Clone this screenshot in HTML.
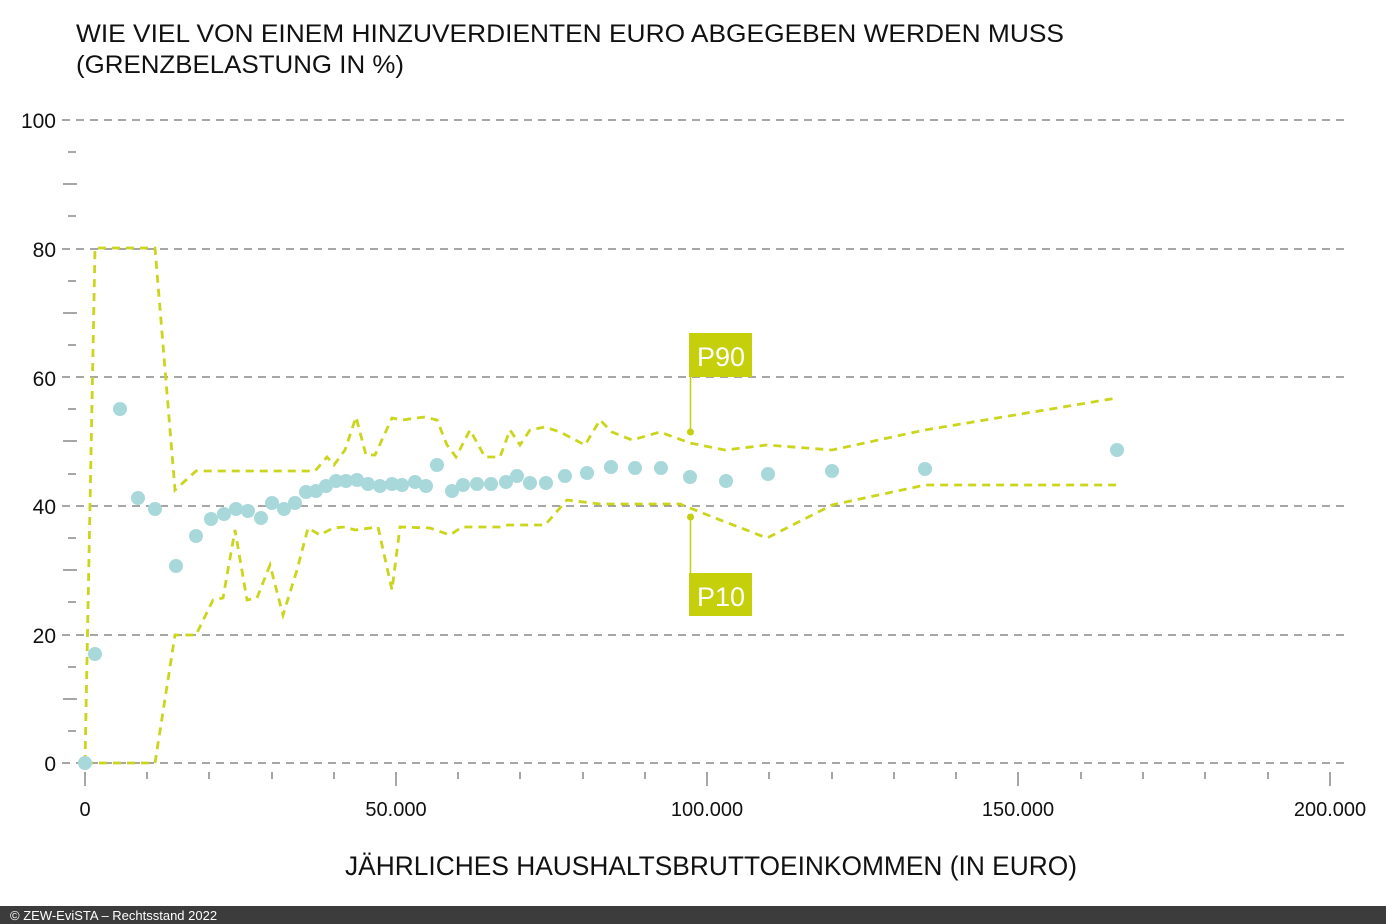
<!DOCTYPE html><html><head><meta charset="utf-8"><style>body{margin:0;width:1386px;height:924px;background:#fff;overflow:hidden;font-family:"Liberation Sans",sans-serif}</style></head><body>
<svg width="1386" height="924" style="position:absolute;left:0;top:0">
<g font-family="Liberation Sans, sans-serif" fill="#111">
<text x="76" y="42" font-size="25" textLength="988" lengthAdjust="spacingAndGlyphs">WIE VIEL VON EINEM HINZUVERDIENTEN EURO ABGEGEBEN WERDEN MUSS</text>
<text x="76" y="73" font-size="25" textLength="328" lengthAdjust="spacingAndGlyphs">(GRENZBELASTUNG IN %)</text>
<g font-size="21" text-anchor="end"><text x="56" y="128">100</text><text x="56" y="257">80</text><text x="56" y="386">60</text><text x="56" y="514">40</text><text x="56" y="643">20</text><text x="56" y="771">0</text></g>
<g font-size="20" text-anchor="middle"><text x="85" y="816">0</text><text x="396" y="816">50.000</text><text x="707" y="816">100.000</text><text x="1018" y="816">150.000</text><text x="1330" y="816">200.000</text></g>
<text x="345" y="875" font-size="27" textLength="732" lengthAdjust="spacingAndGlyphs">JÄHRLICHES HAUSHALTSBRUTTOEINKOMMEN (IN EURO)</text>
</g>
<g stroke="#888" stroke-width="1.5" stroke-dasharray="8,6">
<line x1="62" y1="120" x2="1345" y2="120"/><line x1="62" y1="249" x2="1345" y2="249"/><line x1="62" y1="377" x2="1345" y2="377"/><line x1="62" y1="506" x2="1345" y2="506"/><line x1="62" y1="635" x2="1345" y2="635"/><line x1="62" y1="763" x2="1345" y2="763"/>
</g>
<g stroke="#888" stroke-width="1.5">
<line x1="68" y1="152" x2="76" y2="152"/><line x1="63" y1="184" x2="77" y2="184"/><line x1="68" y1="216" x2="76" y2="216"/>
<line x1="68" y1="281" x2="76" y2="281"/><line x1="63" y1="313" x2="77" y2="313"/><line x1="68" y1="345" x2="76" y2="345"/>
<line x1="68" y1="409" x2="76" y2="409"/><line x1="63" y1="441" x2="77" y2="441"/><line x1="68" y1="474" x2="76" y2="474"/>
<line x1="68" y1="538" x2="76" y2="538"/><line x1="63" y1="570" x2="77" y2="570"/><line x1="68" y1="602" x2="76" y2="602"/>
<line x1="68" y1="667" x2="76" y2="667"/><line x1="63" y1="699" x2="77" y2="699"/><line x1="68" y1="731" x2="76" y2="731"/>
<line x1="85" y1="772" x2="85" y2="786"/><line x1="396" y1="772" x2="396" y2="786"/><line x1="707" y1="772" x2="707" y2="786"/><line x1="1018" y1="772" x2="1018" y2="786"/><line x1="1330" y1="772" x2="1330" y2="786"/>
<line x1="147" y1="772" x2="147" y2="779"/><line x1="209" y1="772" x2="209" y2="779"/><line x1="272" y1="772" x2="272" y2="779"/><line x1="334" y1="772" x2="334" y2="779"/>
<line x1="458" y1="772" x2="458" y2="779"/><line x1="520" y1="772" x2="520" y2="779"/><line x1="583" y1="772" x2="583" y2="779"/><line x1="645" y1="772" x2="645" y2="779"/>
<line x1="769" y1="772" x2="769" y2="779"/><line x1="832" y1="772" x2="832" y2="779"/><line x1="894" y1="772" x2="894" y2="779"/><line x1="956" y1="772" x2="956" y2="779"/>
<line x1="1081" y1="772" x2="1081" y2="779"/><line x1="1143" y1="772" x2="1143" y2="779"/><line x1="1205" y1="772" x2="1205" y2="779"/><line x1="1268" y1="772" x2="1268" y2="779"/>
</g>
<g fill="none" stroke="#cbd51c" stroke-width="2.8" stroke-dasharray="8,6">
<polyline points="85,763 95,248 155,248 175,490 196,471 315,471 327,457 334,465 345,450 356,417 366,455 375,455 392,418 402,420 425,417 437,420 447,445 456,457 470,430 485,457 500,457 510,430 520,445 530,430 545,427 560,432 585,445 600,420 612,432 632,440 660,432 690,443 725,450 767,445 832,450 925,430 1117,398"/>
<polyline points="85,763 155,763 175,635 196,635 213,600 223,598 235,530 247,600 257,598 270,565 283,615 297,570 308,528 320,535 333,528 345,527 355,530 378,527 392,590 400,527 430,528 450,535 462,527 500,527 508,525 545,525 567,500 600,504 680,504 710,516 767,538 832,505 925,485 1117,485"/>
</g>
<g fill="#a8d8da">
<circle cx="85" cy="763" r="7"/><circle cx="95" cy="654" r="7"/><circle cx="120" cy="409" r="7"/><circle cx="138" cy="498" r="7"/><circle cx="155" cy="509" r="7"/><circle cx="176" cy="566" r="7"/><circle cx="196" cy="536" r="7"/><circle cx="211" cy="519" r="7"/><circle cx="224" cy="514" r="7"/><circle cx="236" cy="509" r="7"/><circle cx="248" cy="511" r="7"/><circle cx="261" cy="518" r="7"/><circle cx="272" cy="503" r="7"/><circle cx="284" cy="509" r="7"/><circle cx="295" cy="503" r="7"/><circle cx="306" cy="492" r="7"/><circle cx="316" cy="491" r="7"/><circle cx="326" cy="486" r="7"/><circle cx="336" cy="481" r="7"/><circle cx="346" cy="481" r="7"/><circle cx="357" cy="480" r="7"/><circle cx="368" cy="484" r="7"/><circle cx="380" cy="486" r="7"/><circle cx="392" cy="484" r="7"/><circle cx="402" cy="485" r="7"/><circle cx="415" cy="482" r="7"/><circle cx="426" cy="486" r="7"/><circle cx="437" cy="465" r="7"/><circle cx="452" cy="491" r="7"/><circle cx="463" cy="485" r="7"/><circle cx="477" cy="484" r="7"/><circle cx="491" cy="484" r="7"/><circle cx="506" cy="482" r="7"/><circle cx="517" cy="476" r="7"/><circle cx="530" cy="483" r="7"/><circle cx="546" cy="483" r="7"/><circle cx="565" cy="476" r="7"/><circle cx="587" cy="473" r="7"/><circle cx="611" cy="467" r="7"/><circle cx="635" cy="468" r="7"/><circle cx="661" cy="468" r="7"/><circle cx="690" cy="477" r="7"/><circle cx="726" cy="481" r="7"/><circle cx="768" cy="474" r="7"/><circle cx="832" cy="471" r="7"/><circle cx="925" cy="469" r="7"/><circle cx="1117" cy="450" r="7"/>
</g>
<g fill="#c5cf0a" stroke="#c5cf0a">
<line x1="690.5" y1="376" x2="690.5" y2="432" stroke-width="1.5"/><circle cx="690.5" cy="432" r="3"/>
<line x1="690.5" y1="517" x2="690.5" y2="574" stroke-width="1.5"/><circle cx="690.5" cy="517" r="3"/>
<rect x="689" y="333" width="63" height="44" stroke="none"/><rect x="689" y="573" width="63" height="43" stroke="none"/>
</g>
<g fill="#fff" font-family="Liberation Sans Narrow, Liberation Sans, sans-serif" font-size="27"><text x="697" y="366">P90</text><text x="697" y="606">P10</text></g>
<rect x="0" y="906" width="1386" height="18" fill="#3c3c3c"/>
<text x="10" y="920" fill="#fff" font-size="13" font-family="Liberation Sans, sans-serif">© ZEW-EviSTA – Rechtsstand 2022</text>
</svg></body></html>
